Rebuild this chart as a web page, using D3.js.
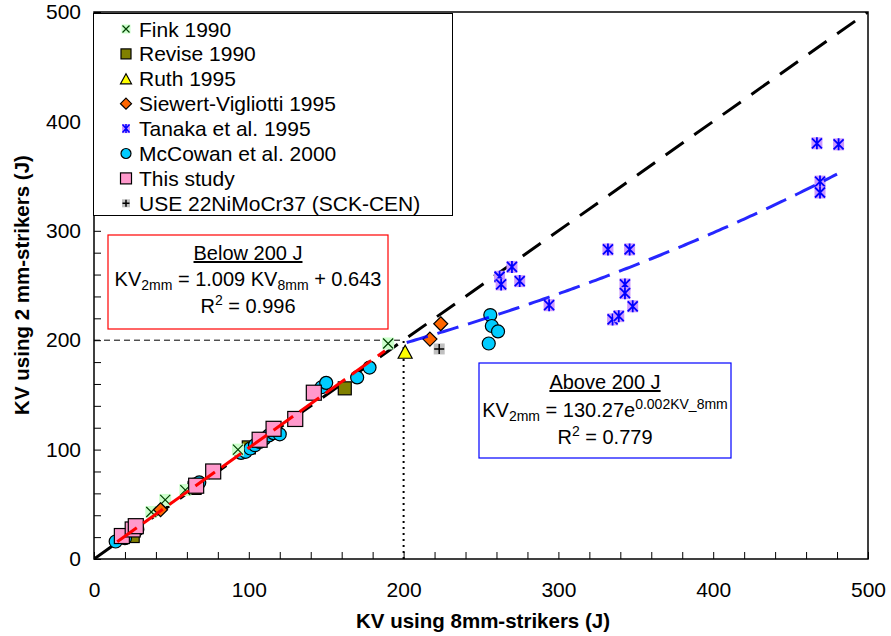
<!DOCTYPE html>
<html><head><meta charset="utf-8">
<script src="https://cdn.jsdelivr.net/npm/d3@7"></script>
<style>
body{margin:0;background:#fff;}
svg{display:block;}
.tick text{font-family:"Liberation Sans",Arial,sans-serif;font-size:21px;}
</style></head>
<body><svg id="c" width="891" height="636"></svg>
<script>
// ---------- data ----------
const xTicks = [0,100,200,300,400,500];
const yTicks = [0,100,200,300,400,500];
const fink = [[37,43],[46,54],[59,63],[93,100],[190,197]];
const revise = [[25,21],[65,65],[100,102],[162,156]];
const ruth = [[201,189]];
const siewert = [[43,45],[217,201],[224,215]];
const tanaka = [[262,258],[270,267],[263,251],[275,254],[294,232],[332,283],[346,283],[343,251],[343,243],[348,231],[335,219],[339,222],[467,380],[481,379],[469,345],[469,335]];
const mccowan = [[14,16],[20,19],[28,27],[65,68],[68,70],[95,97],[98,98],[101,101],[104,104],[107,107],[110,110],[113,113],[116,115],[120,114],[147,157],[150,161],[170,166],[178,175],[256,223],[257,213],[261,208],[255,197]];
const thisStudy = [[18,21],[25,27],[27,30],[66,67],[77,80],[107,109],[116,119],[130,128],[142,152]];
const use22 = [[223,192]];
const legendNames = ["Fink 1990","Revise 1990","Ruth 1995","Siewert-Vigliotti 1995","Tanaka et al. 1995","McCowan et al. 2000","This study","USE 22NiMoCr37 (SCK-CEN)"];
const linFit = {a:1.009, b:0.643, x0:15, x1:188};
const expFit = {a:130.27, k:0.00207, x0:202, x1:480};

// ---------- layout ----------
const svg = d3.select("#c");
const L=94, R=868, T=12, B=559;
const x = d3.scaleLinear().domain([0,500]).range([L,R]);
const y = d3.scaleLinear().domain([0,500]).range([B,T]);
const FONT = "'Liberation Sans',Arial,sans-serif";

svg.append("defs").append("clipPath").attr("id","clip")
  .append("rect").attr("x",L).attr("y",T).attr("width",R-L).attr("height",B-T);

// axes
const xMinor = d3.range(0,501,20), yMinor = d3.range(0,501,20);
const gx = svg.append("g").attr("transform",`translate(0,${B})`)
  .call(d3.axisBottom(x).tickValues(xMinor).tickSize(-7).tickPadding(14)
    .tickFormat(d=> xTicks.includes(d)? d : ""));
const gy = svg.append("g").attr("transform",`translate(${L},0)`)
  .call(d3.axisLeft(y).tickValues(yMinor).tickSize(-7).tickPadding(14)
    .tickFormat(d=> yTicks.includes(d)? d : ""));
[gx,gy].forEach(g=>{g.select(".domain").remove(); g.selectAll("line").attr("stroke","#000").attr("stroke-width",1);});
gx.selectAll("text").attr("y",38).attr("dy",0);
gy.selectAll("text").attr("x",-13);

// frame
svg.append("rect").attr("x",L).attr("y",T).attr("width",R-L).attr("height",B-T)
  .attr("fill","none").attr("stroke","#000").attr("stroke-width",1.5);

const plot = svg.append("g").attr("clip-path","url(#clip)");

// reference lines
plot.append("line").attr("x1",x(0)).attr("y1",y(200)).attr("x2",x(200)).attr("y2",y(200))
  .attr("stroke","#000").attr("stroke-width",1).attr("stroke-dasharray","6,4");
plot.append("line").attr("x1",x(200)).attr("y1",y(0)).attr("x2",x(200)).attr("y2",y(200))
  .attr("stroke","#000").attr("stroke-width",2).attr("stroke-dasharray","2,4");
plot.append("line").attr("x1",x(0)).attr("y1",y(0)).attr("x2",x(500)).attr("y2",y(500))
  .attr("stroke","#000").attr("stroke-width",3).attr("stroke-dasharray","22,13");

// markers
function sym(g, type){
  if(type==="fink"){
    g.append("rect").attr("x",-6).attr("y",-6).attr("width",12).attr("height",12).attr("fill","#ccffcc");
    g.append("path").attr("d","M-5,-5L5,5M-5,5L5,-5").attr("stroke","#004000").attr("stroke-width",1.2);
  } else if(type==="revise"){
    g.append("rect").attr("x",-6.5).attr("y",-6.5).attr("width",13).attr("height",13).attr("fill","#808000").attr("stroke","#000").attr("stroke-width",1.2);
  } else if(type==="ruth"){
    g.append("path").attr("d","M0,-7L7,6L-7,6Z").attr("fill","#ffff00").attr("stroke","#000").attr("stroke-width",1.2);
  } else if(type==="siewert"){
    g.append("path").attr("d","M0,-7L7,0L0,7L-7,0Z").attr("fill","#ff6600").attr("stroke","#000").attr("stroke-width",1.2);
  } else if(type==="tanaka"){
    g.append("rect").attr("x",-5.5).attr("y",-6).attr("width",11).attr("height",12).attr("fill","#cc99ff");
    g.append("path").attr("d","M-5,-5L5,5M-5,5L5,-5M0,-6L0,6").attr("stroke","#0000ff").attr("stroke-width",1.8);
  } else if(type==="mccowan"){
    g.append("circle").attr("r",6.5).attr("fill","#00ccff").attr("stroke","#000").attr("stroke-width",1.2);
  } else if(type==="study"){
    g.append("rect").attr("x",-7.5).attr("y",-7.5).attr("width",15).attr("height",15).attr("fill","#ff99cc").attr("stroke","#000").attr("stroke-width",1.2);
  } else if(type==="use"){
    g.append("rect").attr("x",-5.5).attr("y",-5.5).attr("width",11).attr("height",11).attr("fill","#c0c0c0");
    g.append("path").attr("d","M-5,0L5,0M0,-5L0,5").attr("stroke","#000").attr("stroke-width",1.5);
  }
}
function legendSym(g,type){
  if(type==="study"){ g.append("rect").attr("x",-5.5).attr("y",-5.5).attr("width",11).attr("height",11).attr("fill","#ff99cc").attr("stroke","#000").attr("stroke-width",1.2); return;}
  if(type==="revise"){ g.append("rect").attr("x",-5).attr("y",-5).attr("width",10).attr("height",10).attr("fill","#808000").attr("stroke","#000").attr("stroke-width",1.2); return;}
  if(type==="mccowan"){ g.append("circle").attr("r",5).attr("fill","#00ccff").attr("stroke","#000").attr("stroke-width",1.2); return;}
  if(type==="ruth"){ g.append("path").attr("d","M0,-5L5.5,5L-5.5,5Z").attr("fill","#ffff00").attr("stroke","#000").attr("stroke-width",1.2); return;}
  if(type==="siewert"){ g.append("path").attr("d","M0,-5.5L5.5,0L0,5.5L-5.5,0Z").attr("fill","#ff6600").attr("stroke","#000").attr("stroke-width",1.2); return;}
  if(type==="fink"){ g.append("rect").attr("x",-4.5).attr("y",-4.5).attr("width",9).attr("height",9).attr("fill","#ccffcc");
    g.append("path").attr("d","M-3.5,-3.5L3.5,3.5M-3.5,3.5L3.5,-3.5").attr("stroke","#004000").attr("stroke-width",1.2); return;}
  if(type==="tanaka"){ g.append("rect").attr("x",-4).attr("y",-4.5).attr("width",8).attr("height",9).attr("fill","#cc99ff");
    g.append("path").attr("d","M-3.5,-4L3.5,4M-3.5,4L3.5,-4M0,-4.5L0,4.5").attr("stroke","#0000ff").attr("stroke-width",1.5); return;}
  if(type==="use"){ g.append("rect").attr("x",-4).attr("y",-4).attr("width",8).attr("height",8).attr("fill","#c0c0c0");
    g.append("path").attr("d","M-3.5,0L3.5,0M0,-3.5L0,3.5").attr("stroke","#000").attr("stroke-width",1.5); return;}
}
const drawOrder = [["revise",revise],["mccowan",mccowan],["fink",fink],["siewert",siewert],["study",thisStudy],["ruth",ruth],["use",use22],["tanaka",tanaka]];
drawOrder.forEach(([t,data])=>{
  plot.selectAll(null).data(data).enter().append("g")
    .attr("transform",d=>`translate(${x(d[0])},${y(d[1])})`)
    .each(function(){sym(d3.select(this),t);});
});

// fit lines
const linPts = [linFit.x0, linFit.x1].map(v=>[v, linFit.a*v+linFit.b]);
plot.append("path").datum(linPts)
  .attr("d",d3.line().x(d=>x(d[0])).y(d=>y(d[1])))
  .attr("fill","none").attr("stroke","#ff0000").attr("stroke-width",3).attr("stroke-dasharray","24,8");
const expPts = d3.range(expFit.x0, expFit.x1+0.1, 2).map(v=>[v, expFit.a*Math.exp(expFit.k*v)]);
plot.append("path").datum(expPts)
  .attr("d",d3.line().x(d=>x(d[0])).y(d=>y(d[1])))
  .attr("fill","none").attr("stroke","#0000ff").attr("stroke-width",3).attr("stroke-dasharray","22,10").attr("opacity",0.85);

// legend
const lg = svg.append("g");
lg.append("rect").attr("x",93.5).attr("y",13.5).attr("width",359).attr("height",202)
  .attr("fill","#fff").attr("stroke","#000").attr("stroke-width",1);
const legendTypes = ["fink","revise","ruth","siewert","tanaka","mccowan","study","use"];
legendNames.forEach((n,i)=>{
  const cy = 29 + i*24.9;
  const g = lg.append("g").attr("transform",`translate(126,${cy})`);
  legendSym(g, legendTypes[i]);
  lg.append("text").attr("x",139).attr("y",cy+7.5).text(n)
    .attr("font-family",FONT).attr("font-size",21);
});

// annotation boxes
function box(x0,y0,w,h,color,lines){
  svg.append("rect").attr("x",x0).attr("y",y0).attr("width",w).attr("height",h)
    .attr("fill","#fff").attr("stroke",color).attr("stroke-width",1.2);
  lines.forEach(l=>{
    const t = svg.append("text").attr("x",x0+w/2).attr("y",l.y).attr("text-anchor","middle")
      .attr("font-family",FONT).attr("font-size",20);
    l.parts.forEach(p=>{
      const ts = t.append("tspan").text(p.t);
      if(p.sub){ts.attr("font-size",14).attr("dy",4);} 
      else if(p.sup){ts.attr("font-size",14).attr("dy",-8);} 
      else if(p.back){ts.attr("dy",p.back);}
      if(p.u) ts.attr("text-decoration","underline");
    });
  });
}
box(108,235,280,94,"#ff0000",[
  {y:260,parts:[{t:"Below 200 J",u:true}]},
  {y:286,parts:[{t:"KV"},{t:"2mm",sub:true},{t:" = 1.009 KV",back:-4},{t:"8mm",sub:true},{t:" + 0.643",back:-4}]},
  {y:313,parts:[{t:"R"},{t:"2",sup:true},{t:" = 0.996",back:8}]}
]);
box(479,363,252,95,"#0000ff",[
  {y:389,parts:[{t:"Above 200 J",u:true}]},
  {y:417,parts:[{t:"KV"},{t:"2mm",sub:true},{t:" = 130.27e",back:-4},{t:"0.002KV_8mm",sup:true}]},
  {y:444,parts:[{t:"R"},{t:"2",sup:true},{t:" = 0.779",back:8}]}
]);

// axis titles
svg.append("text").attr("x",483).attr("y",628).attr("text-anchor","middle")
  .attr("font-family",FONT).attr("font-weight","bold").attr("font-size",20.5)
  .text("KV using 8mm-strikers (J)");
svg.append("text").attr("transform","translate(29,285) rotate(-90)").attr("text-anchor","middle")
  .attr("font-family",FONT).attr("font-weight","bold").attr("font-size",20.5)
  .text("KV using 2 mm-strikers (J)");
</script></body></html>
